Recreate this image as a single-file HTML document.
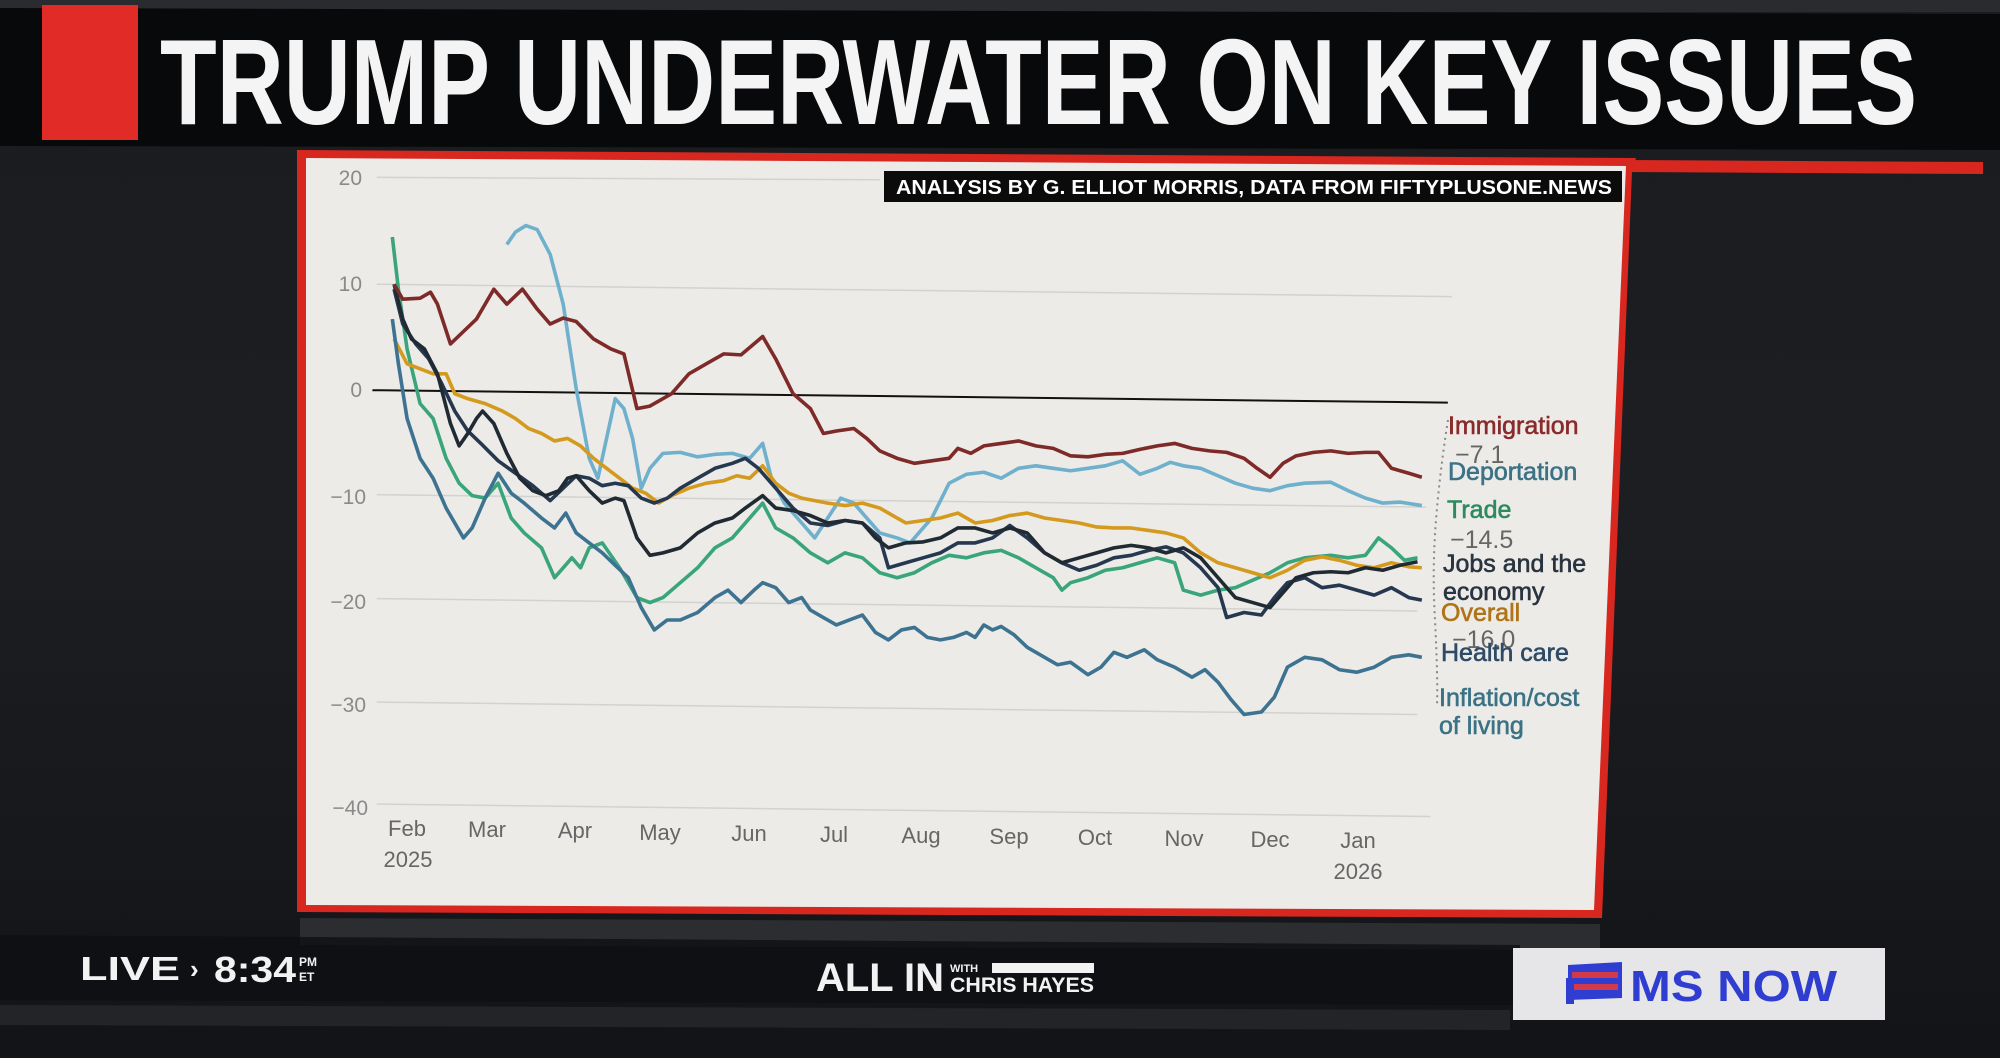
<!DOCTYPE html>
<html><head><meta charset="utf-8"><style>
html,body{margin:0;padding:0;background:#15171a;}
svg{display:block;}
text{font-family:"Liberation Sans",sans-serif;}
</style></head><body>
<svg width="2000" height="1058" viewBox="0 0 2000 1058" xmlns="http://www.w3.org/2000/svg">
<defs>
<linearGradient id="bg" x1="0" y1="0" x2="0" y2="1">
<stop offset="0" stop-color="#1a1c20"/><stop offset="0.5" stop-color="#1c1e22"/><stop offset="1" stop-color="#121418"/>
</linearGradient>
</defs>
<rect width="2000" height="1058" fill="url(#bg)"/>
<rect x="0" y="0" width="2000" height="12" fill="#2a2b2e"/>
<polygon points="0,8 2000,14 2000,150 0,146" fill="#08090b"/>
<rect x="42" y="5" width="96" height="135" fill="#e12b26"/>
<text x="160" y="124" font-size="122" font-weight="bold" fill="#f4f4f4" textLength="1757" lengthAdjust="spacingAndGlyphs">TRUMP UNDERWATER ON KEY ISSUES</text>
<polygon points="1620,160 1983,162 1983,174 1620,172" fill="#d8271f"/>
<polygon points="297,150 1636,158 1632,172 1602,918 297,912" fill="#d8271f"/>
<polygon points="306,158 1626,166 1594,910 306,905" fill="#ecebe8"/>
<polygon points="300,918 1600,924 1600,950 300,945" fill="#2c2d30"/>
<polygon points="0,1005 1510,1010 1510,1030 0,1025" fill="#2a2b2e" opacity="0.7"/>
<rect x="884" y="171" width="738" height="31" fill="#0b0b0b"/>
<text x="896" y="194" font-size="20" font-weight="bold" fill="#fff" textLength="716" lengthAdjust="spacingAndGlyphs">ANALYSIS BY G. ELLIOT MORRIS, DATA FROM FIFTYPLUSONE.NEWS</text>
<g transform="matrix(0.8673,0,0,0.4974,290,140)" fill="none" stroke-linejoin="round">
<g stroke="#d2d2d0" stroke-width="1.5">
<line x1="100" y1="75" x2="680" y2="80" vector-effect="non-scaling-stroke"/>
<line x1="100" y1="290" x2="1340" y2="315" vector-effect="non-scaling-stroke"/>
<line x1="100" y1="713" x2="1310" y2="738" vector-effect="non-scaling-stroke"/>
<line x1="100" y1="922" x2="1300" y2="947" vector-effect="non-scaling-stroke"/>
<line x1="100" y1="1130" x2="1300" y2="1155" vector-effect="non-scaling-stroke"/>
<line x1="100" y1="1335" x2="1315" y2="1360" vector-effect="non-scaling-stroke"/>
</g>
<line x1="95" y1="503" x2="1335" y2="528" stroke="#111" stroke-width="2" vector-effect="non-scaling-stroke"/>
<g stroke-width="3.6">
<polyline vector-effect="non-scaling-stroke" stroke="#6fb0cc" points="250,210 260,185 272,172 285,180 300,230 315,330 330,500 345,640 355,680 365,600 375,520 385,540 395,600 405,700 415,660 430,630 450,628 470,637 490,632 510,630 530,640 545,610 555,680 570,730 590,770 605,800 620,760 635,720 650,730 665,760 680,790 700,800 715,810 725,790 740,760 760,690 780,672 800,668 820,680 840,660 860,655 880,660 900,665 920,660 940,655 960,645 980,672 1000,660 1015,648 1030,655 1050,660 1070,675 1090,690 1110,700 1130,705 1150,695 1170,690 1200,688 1220,705 1240,720 1260,730 1280,728 1305,735"/>
<polyline vector-effect="non-scaling-stroke" stroke="#3aa57a" points="118,195 125,300 135,420 150,530 165,560 180,640 195,690 210,715 225,720 240,690 255,760 270,790 290,820 305,880 315,860 325,840 335,860 345,820 360,810 380,860 400,920 415,930 430,920 450,890 470,860 490,820 510,800 530,760 545,730 560,780 580,800 600,830 620,850 640,830 660,840 680,870 700,880 720,870 740,850 760,835 780,840 800,830 820,825 840,840 860,860 880,880 890,905 900,890 920,880 940,865 960,860 980,850 1000,840 1020,850 1030,905 1050,915 1070,905 1090,900 1110,885 1130,870 1150,850 1170,840 1200,835 1220,840 1240,835 1255,800 1270,820 1285,845 1300,840"/>
<polyline vector-effect="non-scaling-stroke" stroke="#d49a1e" points="120,400 135,450 150,460 165,470 180,470 190,510 205,520 225,530 245,545 260,560 275,580 290,590 305,605 320,600 335,615 350,640 365,660 380,680 395,700 410,710 425,730 440,715 460,700 480,690 500,685 515,675 530,680 545,655 560,690 575,710 590,720 605,725 620,730 640,735 660,730 680,740 695,755 710,770 730,765 750,760 770,750 790,770 810,765 830,755 850,750 870,760 890,765 910,770 930,778 950,780 970,780 990,785 1010,790 1030,800 1050,830 1070,850 1090,860 1110,870 1130,880 1150,865 1170,845 1190,838 1210,845 1230,855 1250,860 1270,850 1290,858 1305,860"/>
<polyline vector-effect="non-scaling-stroke" stroke="#3d7390" points="118,360 125,450 135,560 150,640 165,680 180,740 200,800 210,780 225,720 240,670 255,710 270,730 290,760 305,780 318,750 330,790 345,810 360,830 375,855 390,880 405,940 420,985 435,965 450,965 470,950 490,920 505,905 520,930 535,905 545,890 560,900 575,930 590,920 600,945 615,960 630,975 645,965 660,955 675,990 690,1005 705,985 720,980 735,1000 750,1005 765,1000 780,990 790,1000 800,975 810,985 820,978 835,995 850,1020 870,1040 885,1055 900,1050 920,1075 935,1060 950,1030 965,1040 985,1025 1000,1045 1020,1060 1040,1080 1055,1065 1070,1090 1085,1125 1100,1155 1120,1150 1135,1120 1150,1060 1170,1040 1190,1045 1210,1065 1230,1070 1250,1060 1270,1040 1290,1035 1305,1040"/>
<polyline vector-effect="non-scaling-stroke" stroke="#263850" points="120,300 130,370 145,410 160,440 175,490 190,545 205,585 220,610 240,645 260,670 280,695 300,725 315,700 330,675 345,680 360,695 375,690 390,695 405,720 420,730 435,720 450,700 470,680 490,660 510,650 525,640 540,660 560,700 580,740 600,770 620,775 640,765 660,770 680,800 690,860 710,850 730,840 750,830 770,810 790,810 810,800 830,775 850,800 870,830 890,850 910,865 930,855 950,840 970,835 990,825 1010,818 1030,830 1050,860 1070,900 1080,960 1100,950 1120,955 1135,920 1150,890 1170,880 1190,900 1210,895 1230,905 1250,915 1270,900 1290,920 1305,925"/>
<polyline vector-effect="non-scaling-stroke" stroke="#202a33" points="120,290 130,360 140,400 155,420 170,470 185,570 195,615 205,590 215,560 222,545 235,570 250,630 265,680 280,705 295,715 310,705 320,680 330,675 345,705 360,730 375,720 385,725 400,800 415,835 430,830 450,820 470,790 490,770 510,760 525,740 545,715 560,740 580,745 600,755 620,770 640,765 660,770 675,800 690,820 710,810 730,808 750,800 770,780 790,780 810,790 830,780 850,790 870,830 890,850 910,840 930,830 950,820 970,815 990,820 1010,830 1030,820 1050,840 1070,880 1090,920 1110,930 1130,940 1140,920 1160,880 1180,870 1200,868 1220,870 1240,860 1260,865 1280,855 1300,848"/>
<polyline vector-effect="non-scaling-stroke" stroke="#7e2a28" points="120,290 130,320 150,318 162,306 170,330 185,410 200,385 215,360 235,300 250,330 268,300 285,340 300,370 315,358 330,365 350,400 370,420 385,430 400,540 415,535 440,510 460,470 480,450 500,430 520,432 535,410 545,395 560,440 580,510 600,540 615,590 630,585 650,580 665,600 680,625 700,640 720,650 740,645 760,640 770,620 785,630 800,615 820,610 840,605 860,615 880,620 900,635 920,637 940,632 960,630 980,622 1000,615 1020,610 1040,620 1060,625 1080,628 1100,640 1115,660 1130,678 1145,650 1160,635 1180,628 1200,625 1220,630 1240,628 1255,628 1270,660 1290,670 1305,678"/>
</g>
</g>
<path d="M1448,420 Q1440,470 1436,520 Q1432,570 1435,620 Q1438,680 1437,705" fill="none" stroke="#888" stroke-width="2" stroke-dasharray="2,4"/>
<g font-size="21" fill="#8a8a8a" text-anchor="end">
<text x="362" y="185">20</text>
<text x="362" y="291">10</text>
<text x="362" y="397">0</text>
<text x="366" y="504">−10</text>
<text x="366" y="609">−20</text>
<text x="366" y="712">−30</text>
<text x="368" y="815">−40</text>
</g>
<g font-size="22" fill="#666" text-anchor="middle">
<text x="407" y="836">Feb</text>
<text x="487" y="837">Mar</text>
<text x="575" y="838">Apr</text>
<text x="660" y="840">May</text>
<text x="749" y="841">Jun</text>
<text x="834" y="842">Jul</text>
<text x="921" y="843">Aug</text>
<text x="1009" y="844">Sep</text>
<text x="1095" y="845">Oct</text>
<text x="1184" y="846">Nov</text>
<text x="1270" y="847">Dec</text>
<text x="1358" y="848">Jan</text>
<text x="408" y="867">2025</text>
<text x="1358" y="879">2026</text>
</g>
<g font-size="25" stroke-width="0.6">
<text x="1448" y="434" fill="#8a2b2b" stroke="#8a2b2b">Immigration</text>
<text x="1455" y="463" fill="#666">−7.1</text>
<text x="1448" y="480" fill="#3b7285" stroke="#3b7285">Deportation</text>
<text x="1447" y="518" fill="#2e8a5e" stroke="#2e8a5e">Trade</text>
<text x="1450" y="548" fill="#666">−14.5</text>
<text x="1443" y="572" fill="#2a3440" stroke="#2a3440">Jobs and the</text>
<text x="1443" y="600" fill="#2a3440" stroke="#2a3440">economy</text>
<text x="1441" y="621" fill="#b07418" stroke="#b07418">Overall</text>
<text x="1452" y="648" fill="#666">−16.0</text>
<text x="1441" y="661" fill="#2f4a66" stroke="#2f4a66">Health care</text>
<text x="1439" y="706" fill="#3b7285" stroke="#3b7285">Inflation/cost</text>
<text x="1439" y="734" fill="#3b7285" stroke="#3b7285">of living</text>
</g>
<polygon points="0,935 1520,945 1520,1005 0,1000" fill="#0e0f12" opacity="0.8"/>
<text x="80" y="980" font-size="33" font-weight="bold" fill="#f2f2f2" textLength="100" lengthAdjust="spacingAndGlyphs">LIVE</text>
<text x="190" y="978" font-size="26" font-weight="bold" fill="#f2f2f2">›</text>
<text x="214" y="982" font-size="36" font-weight="bold" fill="#f2f2f2" textLength="82" lengthAdjust="spacingAndGlyphs">8:34</text>
<text x="299" y="966" font-size="12" font-weight="bold" fill="#f2f2f2">PM</text>
<text x="299" y="981" font-size="12" font-weight="bold" fill="#f2f2f2">ET</text>
<text x="816" y="991" font-size="40" font-weight="bold" fill="#f2f2f2" textLength="128" lengthAdjust="spacingAndGlyphs">ALL IN</text>
<text x="950" y="972" font-size="11" font-weight="bold" fill="#f2f2f2">WITH</text>
<rect x="992" y="963" width="102" height="10" fill="#f2f2f2"/>
<text x="950" y="992" font-size="21" font-weight="bold" fill="#f2f2f2" textLength="144" lengthAdjust="spacingAndGlyphs">CHRIS HAYES</text>
<rect x="1513" y="948" width="372" height="72" fill="#e6e6e8"/>
<polygon points="1568,965 1622,962 1622,998 1568,1000" fill="#2f3ed0"/>
<rect x="1572" y="972" width="46" height="6" fill="#d23a4a"/>
<rect x="1572" y="984" width="46" height="6" fill="#d23a4a"/>
<rect x="1566" y="978" width="8" height="26" fill="#2f3ed0"/>
<text x="1630" y="1001" font-size="44" font-weight="bold" fill="#2f3ed0" textLength="207" lengthAdjust="spacingAndGlyphs">MS NOW</text>
</svg>
</body></html>
